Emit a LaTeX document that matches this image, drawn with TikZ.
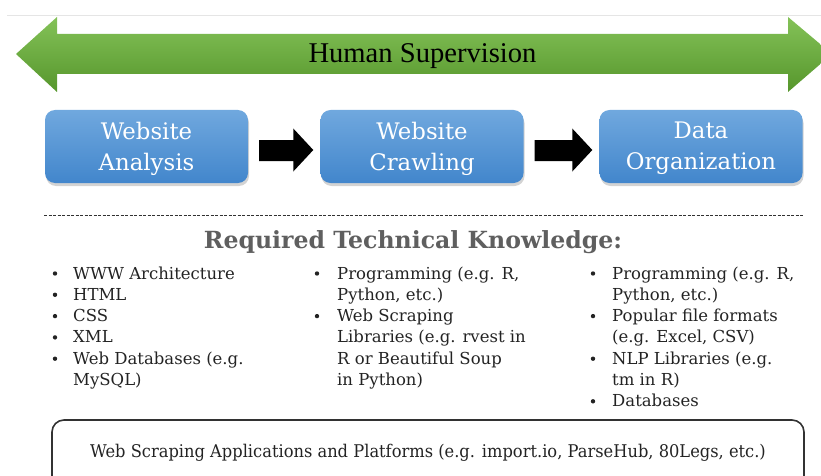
\documentclass[tikz,border=0pt]{standalone}
\usepackage{fontspec}
\setmainfont{DejaVu Serif}
\newfontfamily\headfont{Liberation Serif}
\newfontfamily\narrowfont[FakeStretch=0.93]{DejaVu Serif}
\usetikzlibrary{shadows,calc}

\definecolor{greenTop}{RGB}{132,194,88}
\definecolor{greenBot}{RGB}{86,150,44}
\definecolor{blueTop}{RGB}{112,168,222}
\definecolor{blueBot}{RGB}{66,134,204}
\definecolor{bodytext}{RGB}{35,35,35}
\definecolor{headgray}{RGB}{95,95,95}
\definecolor{framegray}{RGB}{50,50,50}

\tikzset{
  stage/.style={minimum width=203pt, minimum height=73pt, rounded corners=10pt,
    top color=blueTop, bottom color=blueBot, text=white, align=center,
    font=\fontsize{22.8}{31}\selectfont, inner sep=0pt, text depth=1pt,
    drop shadow={shadow xshift=1pt, shadow yshift=-3pt, opacity=0.35}},
  blockarrow/.style={fill=black},
  body/.style={anchor=base west, inner sep=0pt, text=bodytext,
    font=\fontsize{16.5}{20}\selectfont},
  dot/.style={fill=bodytext}
}

\begin{document}
\begin{tikzpicture}[x=1pt,y=-1pt]
\useasboundingbox (0,0) rectangle (821,476);
\clip (0,0) rectangle (821,476);

% faint rule along the top
\draw[black!10, line width=0.8pt] (7,15) -- (821,15);

% double-headed supervision arrow
\shade[top color=greenTop, bottom color=greenBot]
  (16,54) -- (57,17) -- (57,34) -- (788,34) -- (788,17) -- (832,54)
  -- (788,92) -- (788,74) -- (57,74) -- (57,92) -- cycle;
\node[anchor=base, inner sep=0pt, font=\headfont\fontsize{28.6}{30}\selectfont]
  (hs) at (422.5,63) {Human Supervision};

% process stages
\node[stage] (s1) at (146.5,146.5) {Website\\Analysis};
\node[stage] (s2) at (422,146.5) {Website\\Crawling};
\node[stage] (s3) at (701,146.5) {Data\\Organization};

% block arrows between stages
\foreach \a/\b in {s1/s2, s2/s3}{
  \fill[blockarrow]
    ($(\a.east)+(11,-6.5)$) -- ($(\b.west)+(-27,-6.5)$) -- ($(\b.west)+(-27,-18)$)
    -- ($(\b.west)+(-7,3.5)$) -- ($(\b.west)+(-27,25)$) -- ($(\b.west)+(-27,14.5)$)
    -- ($(\a.east)+(11,14.5)$) -- cycle;
}

% separator
\draw[framegray, line width=1pt, dash pattern=on 3pt off 1.5pt] (44,215) -- (804,215);

\node[anchor=base, inner sep=0pt, text=headgray,
  font=\bfseries\fontsize{23.6}{26}\selectfont] (rtk) at (413,248)
  {Required Technical Knowledge:};

% column 1
\node[body] (a1) at (73,279) {WWW Architecture};
\node[body] (a2) at (73,300.3) {HTML};
\node[body] (a3) at (73,321.6) {CSS};
\node[body] (a4) at (73,342.9) {XML};
\node[body] (a5) at (73,364.2) {Web Databases (e.g.};
\node[body] (a6) at (73,385.5) {MySQL)};
\foreach \y in {279,300.3,321.6,342.9,364.2}{\fill[dot] (55,\y-5.5) circle (2.2pt);}

% column 2
\node[body] (b1) at (337,279) {Programming (e.g. R,};
\node[body] (b2) at (337,300.3) {Python, etc.)};
\node[body] (b3) at (337,321.6) {Web Scraping};
\node[body] (b4) at (337,342.9) {Libraries (e.g. rvest in};
\node[body] (b5) at (337,364.2) {R or Beautiful Soup};
\node[body] (b6) at (337,385.5) {in Python)};
\foreach \y in {279,321.6}{\fill[dot] (317,\y-5.5) circle (2.2pt);}

% column 3
\node[body] (c1) at (612,279) {Programming (e.g. R,};
\node[body] (c2) at (612,300.3) {Python, etc.)};
\node[body] (c3) at (612,321.6) {Popular file formats};
\node[body] (c4) at (612,342.9) {(e.g. Excel, CSV)};
\node[body] (c5) at (612,364.2) {NLP Libraries (e.g.};
\node[body] (c6) at (612,385.5) {tm in R)};
\node[body] (c7) at (612,406.8) {Databases};
\foreach \y in {279,321.6,364.2,406.8}{\fill[dot] (593,\y-5.5) circle (2.2pt);}

% platforms frame
\draw[framegray, line width=1.6pt, rounded corners=12pt] (52,420) rectangle (804,492);
\node[anchor=base, inner sep=0pt, text=bodytext,
  font=\narrowfont\fontsize{17.5}{20}\selectfont] (apps) at (428,457)
  {Web Scraping Applications and Platforms (e.g. import.io, ParseHub, 80Legs, etc.)};
\end{tikzpicture}
\end{document}
